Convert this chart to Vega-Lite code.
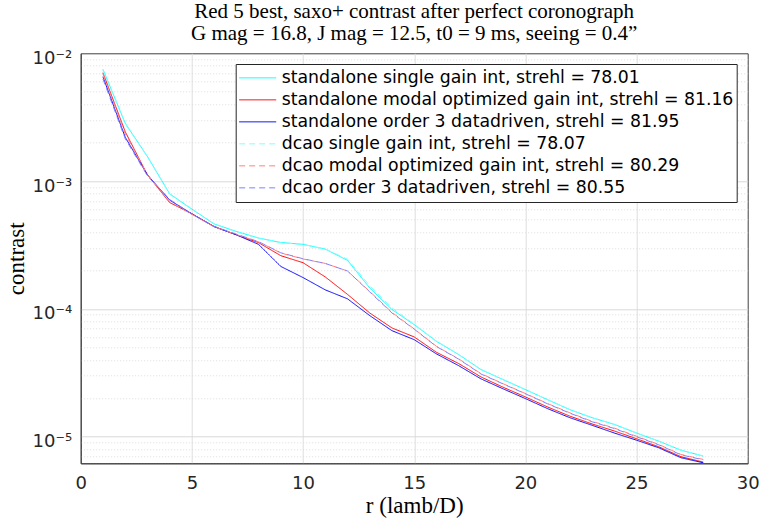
{
  "$schema": "https://vega.github.io/schema/vega-lite/v6.json",
  "width": 667,
  "height": 410,
  "autosize": {"type": "none"},
  "padding": {"left": 80.7, "top": 53.3, "right": 11.3, "bottom": 59.7},
  "background": "white",
  "title": {
    "text": ["Red 5 best, saxo+ contrast after perfect coronograph", "G mag = 16.8, J mag = 12.5, t0 = 9 ms, seeing = 0.4”"],
    "font": "Liberation Serif",
    "fontSize": 21,
    "fontWeight": "normal",
    "color": "#000000",
    "lineHeight": 22,
    "offset": 5,
    "anchor": "middle"
  },
  "data": {
    "values": [
      {"r": 1, "s1": 7.5e-3, "s2": 7.05e-3, "s3": 6.56e-3, "s4": 7.4e-3, "s5": 6.9e-3, "s6": 6.3e-3},
      {"r": 2, "s1": 2.84e-3, "s2": 2.44e-3, "s3": 2.21e-3, "s4": 2.8e-3, "s5": 2.35e-3, "s6": 2.15e-3},
      {"r": 3, "s1": 1.56e-3, "s2": 1.12e-3, "s3": 1.12e-3, "s4": 1.55e-3, "s5": 1.12e-3, "s6": 1.1e-3},
      {"r": 4, "s1": 7.96e-4, "s2": 6.8e-4, "s3": 7.1e-4, "s4": 7.9e-4, "s5": 6.9e-4, "s6": 7.2e-4},
      {"r": 5, "s1": 6.04e-4, "s2": 5.55e-4, "s3": 5.55e-4, "s4": 6.0e-4, "s5": 5.5e-4, "s6": 5.52e-4},
      {"r": 6, "s1": 4.63e-4, "s2": 4.42e-4, "s3": 4.4e-4, "s4": 4.6e-4, "s5": 4.4e-4, "s6": 4.42e-4},
      {"r": 7, "s1": 4.04e-4, "s2": 3.8e-4, "s3": 3.8e-4, "s4": 4.0e-4, "s5": 3.82e-4, "s6": 3.85e-4},
      {"r": 8, "s1": 3.59e-4, "s2": 3.3e-4, "s3": 3.2e-4, "s4": 3.57e-4, "s5": 3.35e-4, "s6": 3.36e-4},
      {"r": 9, "s1": 3.31e-4, "s2": 2.61e-4, "s3": 2.15e-4, "s4": 3.3e-4, "s5": 2.74e-4, "s6": 2.75e-4},
      {"r": 10, "s1": 3.2e-4, "s2": 2.3e-4, "s3": 1.76e-4, "s4": 3.2e-4, "s5": 2.46e-4, "s6": 2.47e-4},
      {"r": 11, "s1": 2.94e-4, "s2": 1.78e-4, "s3": 1.41e-4, "s4": 2.94e-4, "s5": 2.27e-4, "s6": 2.27e-4},
      {"r": 12, "s1": 2.4e-4, "s2": 1.3e-4, "s3": 1.2e-4, "s4": 2.45e-4, "s5": 1.98e-4, "s6": 1.98e-4},
      {"r": 13, "s1": 1.46e-4, "s2": 9.3e-5, "s3": 8.87e-5, "s4": 1.52e-4, "s5": 1.37e-4, "s6": 1.36e-4},
      {"r": 14, "s1": 9.9e-5, "s2": 7.1e-5, "s3": 6.76e-5, "s4": 1.02e-4, "s5": 9.4e-5, "s6": 9.3e-5},
      {"r": 15, "s1": 7.54e-5, "s2": 6.04e-5, "s3": 5.75e-5, "s4": 7.6e-5, "s5": 6.98e-5, "s6": 6.95e-5},
      {"r": 16, "s1": 5.58e-5, "s2": 4.58e-5, "s3": 4.45e-5, "s4": 5.6e-5, "s5": 5.1e-5, "s6": 5.08e-5},
      {"r": 17, "s1": 4.4e-5, "s2": 3.74e-5, "s3": 3.6e-5, "s4": 4.4e-5, "s5": 4.07e-5, "s6": 4.05e-5},
      {"r": 18, "s1": 3.36e-5, "s2": 2.94e-5, "s3": 2.84e-5, "s4": 3.36e-5, "s5": 3.12e-5, "s6": 3.1e-5},
      {"r": 19, "s1": 2.8e-5, "s2": 2.44e-5, "s3": 2.37e-5, "s4": 2.8e-5, "s5": 2.6e-5, "s6": 2.59e-5},
      {"r": 20, "s1": 2.34e-5, "s2": 2.05e-5, "s3": 1.99e-5, "s4": 2.34e-5, "s5": 2.18e-5, "s6": 2.17e-5},
      {"r": 21, "s1": 1.95e-5, "s2": 1.71e-5, "s3": 1.66e-5, "s4": 1.95e-5, "s5": 1.82e-5, "s6": 1.81e-5},
      {"r": 22, "s1": 1.63e-5, "s2": 1.45e-5, "s3": 1.41e-5, "s4": 1.63e-5, "s5": 1.54e-5, "s6": 1.53e-5},
      {"r": 23, "s1": 1.41e-5, "s2": 1.26e-5, "s3": 1.23e-5, "s4": 1.41e-5, "s5": 1.32e-5, "s6": 1.31e-5},
      {"r": 24, "s1": 1.25e-5, "s2": 1.11e-5, "s3": 1.07e-5, "s4": 1.25e-5, "s5": 1.17e-5, "s6": 1.16e-5},
      {"r": 25, "s1": 1.07e-5, "s2": 9.65e-6, "s3": 9.4e-6, "s4": 1.07e-5, "s5": 1.01e-5, "s6": 1.0e-5},
      {"r": 26, "s1": 9.24e-6, "s2": 8.35e-6, "s3": 8.2e-6, "s4": 9.24e-6, "s5": 8.7e-6, "s6": 8.65e-6},
      {"r": 27, "s1": 7.85e-6, "s2": 6.98e-6, "s3": 6.85e-6, "s4": 7.85e-6, "s5": 7.27e-6, "s6": 7.22e-6},
      {"r": 28, "s1": 7.06e-6, "s2": 6.34e-6, "s3": 6.26e-6, "s4": 7.06e-6, "s5": 6.65e-6, "s6": 6.6e-6}
    ]
  },
  "transform": [
    {"fold": ["s1", "s2", "s3", "s4", "s5", "s6"], "as": ["key", "contrast"]},
    {
      "lookup": "key",
      "from": {
        "data": {
          "values": [
            {"key": "s1", "name": "standalone single gain int, strehl = 78.01"},
            {"key": "s2", "name": "standalone modal optimized gain int, strehl = 81.16"},
            {"key": "s3", "name": "standalone order 3 datadriven, strehl = 81.95"},
            {"key": "s4", "name": "dcao single gain int, strehl = 78.07"},
            {"key": "s5", "name": "dcao modal optimized gain int, strehl = 80.29"},
            {"key": "s6", "name": "dcao order 3 datadriven, strehl = 80.55"}
          ]
        },
        "key": "key",
        "fields": ["name"]
      }
    }
  ],
  "mark": {"type": "line", "strokeWidth": 1, "clip": true},
  "encoding": {
    "x": {
      "field": "r",
      "type": "quantitative",
      "scale": {"domain": [0, 30], "nice": false},
      "axis": {
        "values": [0, 5, 10, 15, 20, 25, 30],
        "title": "r (lamb/D)",
        "titleFont": "Liberation Serif",
        "titleFontSize": 23,
        "titleFontWeight": "normal",
        "titleColor": "#000000",
        "titleX": 333.5,
        "titleY": 48.7,
        "titleBaseline": "alphabetic",
        "titleAlign": "center",
        "labelFont": "DejaVu Sans",
        "labelFontSize": 18,
        "labelColor": "#262626",
        "labelPadding": 11,
        "labelFlush": false,
        "ticks": false,
        "domainColor": "#404040",
        "gridColor": "#dedede",
        "gridOpacity": {"condition": {"test": "datum.value == 0 || datum.value == 30", "value": 0}, "value": 1}
      }
    },
    "y": {
      "field": "contrast",
      "type": "quantitative",
      "scale": {"type": "log", "domain": [6.2e-6, 0.01], "nice": false},
      "axis": {
        "values": [7e-6, 8e-6, 9e-6, 1e-5, 2e-5, 3e-5, 4e-5, 5e-5, 6e-5, 7e-5, 8e-5, 9e-5, 1e-4, 2e-4, 3e-4, 4e-4, 5e-4, 6e-4, 7e-4, 8e-4, 9e-4, 1e-3, 2e-3, 3e-3, 4e-3, 5e-3, 6e-3, 7e-3, 8e-3, 9e-3, 1e-2],
        "labelExpr": "abs(log(datum.value)/LN10 - round(log(datum.value)/LN10)) < 0.001 ? '10' + ['⁻⁵','⁻⁴','⁻³','⁻²'][round(log(datum.value)/LN10)+5] : ''",
        "title": "contrast",
        "titleFont": "Liberation Serif",
        "titleFontSize": 23,
        "titleFontWeight": "normal",
        "titleColor": "#000000",
        "titleX": -57.4,
        "titleY": 205,
        "titleBaseline": "alphabetic",
        "titleAlign": "center",
        "titleAngle": -90,
        "labelFont": "DejaVu Sans",
        "labelFontSize": 18,
        "labelColor": "#262626",
        "labelPadding": 9,
        "labelBaseline": "alphabetic",
        "labelOffset": 10,
        "labelFlush": false,
        "labelOverlap": false,
        "ticks": false,
        "domainColor": "#404040",
        "gridColor": {"condition": {"test": "abs(log(datum.value)/LN10 - round(log(datum.value)/LN10)) < 0.001", "value": "#d9d9d9"}, "value": "#dcdcdc"},
        "gridDash": {"condition": {"test": "abs(log(datum.value)/LN10 - round(log(datum.value)/LN10)) < 0.001", "value": []}, "value": [1, 2]},
        "gridOpacity": {"condition": {"test": "datum.value > 0.0099", "value": 0}, "value": 1}
      }
    },
    "color": {
      "field": "name",
      "type": "nominal",
      "scale": {
        "domain": [
          "standalone single gain int, strehl = 78.01",
          "standalone modal optimized gain int, strehl = 81.16",
          "standalone order 3 datadriven, strehl = 81.95",
          "dcao single gain int, strehl = 78.07",
          "dcao modal optimized gain int, strehl = 80.29",
          "dcao order 3 datadriven, strehl = 80.55"
        ],
        "range": ["#00ffff", "#ff0000", "#0000ff", "#80ffff", "#ff8080", "#8080ff"]
      },
      "legend": {
        "title": null,
        "orient": "none",
        "legendX": 155,
        "legendY": 10.7,
        "symbolType": "stroke",
        "symbolSize": 1369,
        "symbolStrokeWidth": 1,
        "labelFont": "DejaVu Sans",
        "labelFontSize": 17.3,
        "labelColor": "#000000",
        "labelLimit": 1000,
        "labelOffset": 5,
        "clipHeight": 21.7,
        "rowPadding": 0,
        "padding": 3,
        "strokeColor": "#262626",
        "fillColor": "white",
        "cornerRadius": 0
      }
    },
    "strokeDash": {
      "field": "name",
      "type": "nominal",
      "scale": {
        "domain": [
          "standalone single gain int, strehl = 78.01",
          "standalone modal optimized gain int, strehl = 81.16",
          "standalone order 3 datadriven, strehl = 81.95",
          "dcao single gain int, strehl = 78.07",
          "dcao modal optimized gain int, strehl = 80.29",
          "dcao order 3 datadriven, strehl = 80.55"
        ],
        "range": [[1, 0], [1, 0], [1, 0], [6, 4], [6, 4], [6, 4]]
      },
      "legend": {
        "title": null,
        "orient": "none",
        "legendX": 155,
        "legendY": 10.7,
        "symbolType": "stroke",
        "symbolSize": 1369,
        "symbolStrokeWidth": 1,
        "labelFont": "DejaVu Sans",
        "labelFontSize": 17.3,
        "labelColor": "#000000",
        "labelLimit": 1000,
        "labelOffset": 5,
        "clipHeight": 21.7,
        "rowPadding": 0,
        "padding": 3,
        "strokeColor": "#262626",
        "fillColor": "white",
        "cornerRadius": 0
      }
    }
  },
  "config": {
    "view": {"stroke": "#404040", "strokeWidth": 1}
  }
}
